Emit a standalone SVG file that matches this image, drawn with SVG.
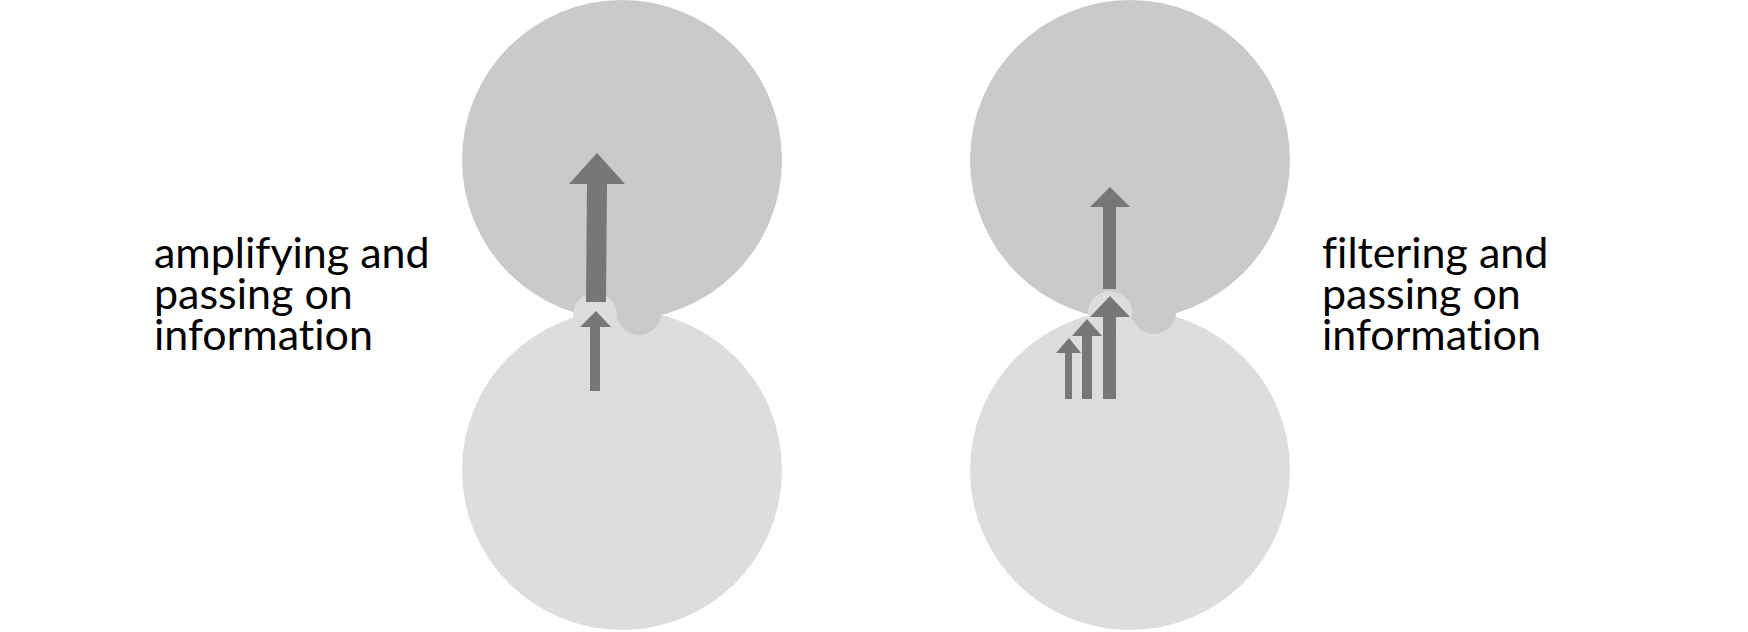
<svg xmlns="http://www.w3.org/2000/svg" width="1748" height="632" viewBox="0 0 1748 632">
<style>
.top{fill:#cacaca}
.bot{fill:#dddddd}
.arrow{fill:#777777}
.lbl{font-family:Lato,"Noto Sans",sans-serif;font-size:43px;fill:#000;font-variant-ligatures:none;font-feature-settings:"liga" 0,"dlig" 0}
</style>
<rect width="1748" height="632" fill="#ffffff"/>
<g id="left-lower"><circle class="bot" cx="622" cy="470" r="160"/></g>
<g id="left-upper"><circle class="top" cx="622" cy="160" r="160"/></g>
<g id="left-junction">
<circle class="bot" cx="595" cy="315" r="22"/>
<circle class="top" cx="639" cy="313" r="22"/>
</g>
<g id="right-lower"><circle class="bot" cx="1130" cy="470" r="160"/></g>
<g id="right-upper"><circle class="top" cx="1130" cy="160" r="160"/></g>
<g id="right-junction">
<circle class="bot" cx="1110" cy="313" r="22"/>
<circle class="top" cx="1154" cy="312" r="22"/>
</g>
<g id="connectors">
<polygon class="arrow" points="597,153 625,184 607,184 606,302 586,302 587,184 569,184"/>
<polygon class="arrow" points="596,311 611,327 600,327 600,391 590,391 590,327 580,327"/>
<polygon class="arrow" points="1110,187 1130,207 1116,207 1116,289 1103,289 1103,207 1090,207"/>
<polygon class="arrow" points="1110,296 1130,317 1116,317 1116,399 1103,399 1103,317 1090,317"/>
<polygon class="arrow" points="1087,319 1102,336 1092,336 1092,399 1082,399 1082,336 1072,336"/>
<polygon class="arrow" points="1069,338 1081,353 1072,353 1072,399 1065,399 1065,353 1056,353"/>
</g>
<g id="label-left">
<text class="lbl" x="154" y="268">amplifying and</text>
<text class="lbl" x="154" y="309">passing on</text>
<text class="lbl" x="154" y="350">information</text>
</g>
<g id="label-right">
<text class="lbl" x="1322" y="268">filtering and</text>
<text class="lbl" x="1322" y="309">passing on</text>
<text class="lbl" x="1322" y="350">information</text>
</g>
</svg>
